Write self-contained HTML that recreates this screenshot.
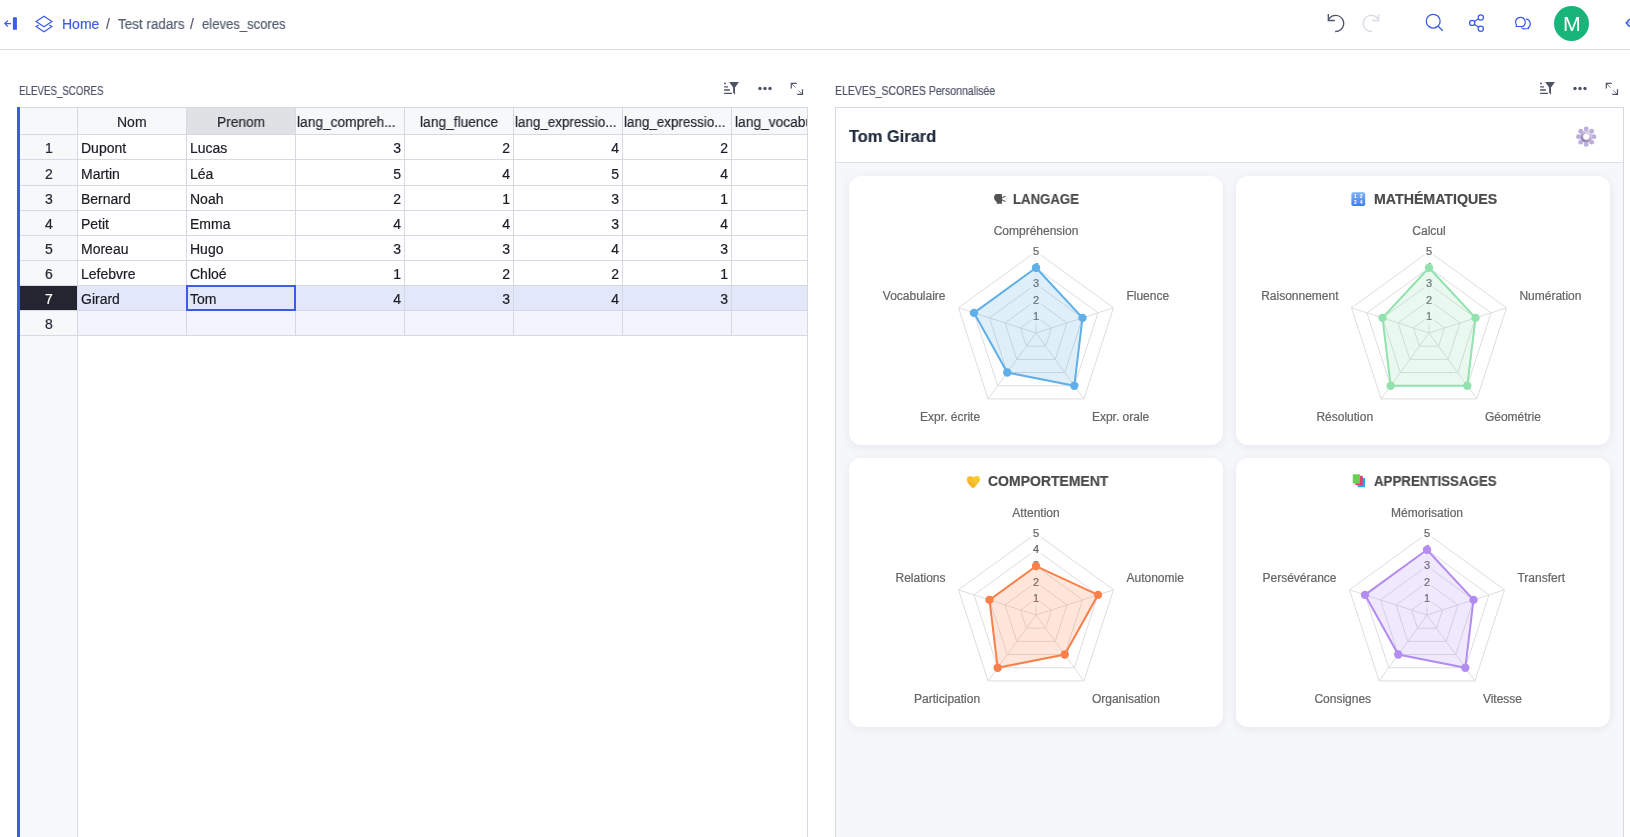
<!DOCTYPE html><html><head><meta charset="utf-8"><title>eleves_scores</title><style>
*{box-sizing:border-box;margin:0;padding:0}
html,body{width:1630px;height:837px;overflow:hidden;background:#fff;font-family:"Liberation Sans",sans-serif}
body{position:relative}
.ab{will-change:transform;-webkit-text-stroke:0.2px currentColor}
.ab{position:absolute;white-space:nowrap}
.gl{position:absolute;background:#d4d9e3}
.card{position:absolute;background:#fff;border-radius:12px;box-shadow:0 2px 10px rgba(20,30,60,0.07)}
svg text{font-family:"Liberation Sans",sans-serif}
svg text.ct{stroke:#666;stroke-width:0.22px}
</style></head><body>
<div class="ab" style="left:0;top:49px;width:1630px;height:1px;background:#d9dce4"></div>
<svg class="ab" style="left:0;top:10px" width="24" height="28" viewBox="0 0 24 28">
<path d="M11 13.6H5.2 M7.9 10.6L4.8 13.6L7.9 16.6" fill="none" stroke="#3d5ce5" stroke-width="1.3"/>
<rect x="12.9" y="7.2" width="4" height="12.6" fill="#3d5ce5" rx="0.5"/></svg>
<svg class="ab" style="left:34px;top:14px" width="21" height="20" viewBox="0 0 21 20">
<path d="M10 2.3L17.9 7.5L10 12.7L2.1 7.5Z" fill="none" stroke="#3d5ce5" stroke-width="1.2"/>
<path d="M4.8 10.9L2.1 12.5L10 17.7L17.9 12.5L15.2 10.9" fill="none" stroke="#3d5ce5" stroke-width="1.2"/></svg>
<div class="ab" style="left:62.00px;top:17.15px;font-size:14px;line-height:14px;font-weight:normal;color:#3d5ce5;transform:scaleX(1.0011);transform-origin:left top;">Home</div>
<div class="ab" style="left:105.50px;top:17.15px;font-size:14px;line-height:14px;font-weight:normal;color:#535b6f;">/</div>
<div class="ab" style="left:117.80px;top:17.15px;font-size:14px;line-height:14px;font-weight:normal;color:#535b6f;transform:scaleX(0.9617);transform-origin:left top;">Test radars</div>
<div class="ab" style="left:189.90px;top:17.15px;font-size:14px;line-height:14px;font-weight:normal;color:#535b6f;">/</div>
<div class="ab" style="left:201.60px;top:17.15px;font-size:14px;line-height:14px;font-weight:normal;color:#535b6f;transform:scaleX(0.9341);transform-origin:left top;">eleves_scores</div>
<svg class="ab" style="left:1324px;top:10px" width="24" height="26" viewBox="0 0 24 26">
<path d="M4.4 9.8 A 8.1 8.1 0 1 1 11.2 21.5" fill="none" stroke="#4b5268" stroke-width="1.3"/>
<path d="M4.3 3.9V10.5H10.8" fill="none" stroke="#4b5268" stroke-width="1.3"/></svg>
<svg class="ab" style="left:1358.7px;top:10px" width="24" height="26" viewBox="0 0 24 26">
<g transform="translate(24,0) scale(-1,1)">
<path d="M4.4 9.8 A 8.1 8.1 0 1 1 11.2 21.5" fill="none" stroke="#d5dae3" stroke-width="1.3"/>
<path d="M4.3 3.9V10.5H10.8" fill="none" stroke="#d5dae3" stroke-width="1.3"/></g></svg>
<svg class="ab" style="left:1422px;top:10px" width="24" height="24" viewBox="0 0 24 24">
<circle cx="11.2" cy="11.2" r="6.9" fill="none" stroke="#3d5ce5" stroke-width="1.3"/>
<path d="M16.2 16.2L20.8 20.8" stroke="#3d5ce5" stroke-width="1.3"/></svg>
<svg class="ab" style="left:1466px;top:11px" width="22" height="24" viewBox="0 0 22 24">
<circle cx="6.2" cy="11.9" r="2.6" fill="none" stroke="#3d5ce5" stroke-width="1.25"/>
<circle cx="14.8" cy="6.4" r="2.6" fill="none" stroke="#3d5ce5" stroke-width="1.25"/>
<circle cx="14.8" cy="17.7" r="2.6" fill="none" stroke="#3d5ce5" stroke-width="1.25"/>
<path d="M8.4 10.5L12.6 7.8 M8.4 13.3L12.6 16.3" stroke="#3d5ce5" stroke-width="1.25"/></svg>
<svg class="ab" style="left:1512px;top:12px" width="22" height="22" viewBox="0 0 22 22">
<path d="M4.1 14.5L4.5 13.1A4.9 4.9 0 1 1 10.9 14.4Z" fill="none" stroke="#3d5ce5" stroke-width="1.25" stroke-linejoin="round"/>
<path d="M13.8 7.2A4.6 4.6 0 0 1 16.1 15.7L16.6 16.5L11.6 16.9Q10.4 16.5 9.4 15.6" fill="none" stroke="#3d5ce5" stroke-width="1.25" stroke-linejoin="round"/></svg>
<div class="ab" style="left:1554px;top:6px;width:35px;height:35px;border-radius:50%;background:#18b57a"></div>
<div class="ab" style="left:1272.10px;width:600px;text-align:center;top:14.07px;font-size:20px;line-height:20px;font-weight:normal;color:#fff;transform:scaleX(1.0677);transform-origin:center top;-webkit-text-stroke:0">M</div>
<svg class="ab" style="left:1620px;top:14px" width="10" height="20" viewBox="0 0 10 20">
<path d="M10 8.9H7.8" stroke="#9fb0f0" stroke-width="1.4"/>
<path d="M9.8 5.1L6.2 8.9L9.8 12.7" fill="none" stroke="#3d5ce5" stroke-width="1.5"/></svg>
<div class="ab" style="left:19.30px;top:84.84px;font-size:12px;line-height:12px;font-weight:normal;color:#4d5468;transform:scaleX(0.8121);transform-origin:left top;">ELEVES_SCORES</div>
<div class="ab" style="left:834.80px;top:84.84px;font-size:12px;line-height:12px;font-weight:normal;color:#4d5468;transform:scaleX(0.8733);transform-origin:left top;">ELEVES_SCORES Personnalisée</div>
<svg class="ab" style="left:722px;top:80px" width="20" height="18" viewBox="0 0 20 18">
<path d="M2.1 3.5h1.8 M2.1 6.8h3.9 M2.1 10h5.8 M2.1 13.3h7.9" stroke="#4d5468" stroke-width="1.3"/>
<path d="M7.2 2.1H16.9L13.0 7.4V14.6L11.1 12.8V7.4Z" fill="#4d5468"/></svg><svg class="ab" style="left:756px;top:80px" width="18" height="16" viewBox="0 0 18 16">
<circle cx="4.0" cy="8.5" r="1.7" fill="#4d5468"/><circle cx="9.0" cy="8.5" r="1.7" fill="#4d5468"/><circle cx="14.0" cy="8.5" r="1.7" fill="#4d5468"/></svg><svg class="ab" style="left:788px;top:80px" width="18" height="18" viewBox="0 0 18 18">
<path d="M8.7 3.4H3.3V8.5 M9.2 14.4H14.5V9.2" fill="none" stroke="#4d5468" stroke-width="1.2"/>
<path d="M3.6 3.7L7.6 7.6 M10.3 10.4L14.2 14.1" fill="none" stroke="#4d5468" stroke-width="0.9" opacity="0.85"/></svg>
<svg class="ab" style="left:1538px;top:80px" width="20" height="18" viewBox="0 0 20 18">
<path d="M2.1 3.5h1.8 M2.1 6.8h3.9 M2.1 10h5.8 M2.1 13.3h7.9" stroke="#4d5468" stroke-width="1.3"/>
<path d="M7.2 2.1H16.9L13.0 7.4V14.6L11.1 12.8V7.4Z" fill="#4d5468"/></svg><svg class="ab" style="left:1571px;top:80px" width="18" height="16" viewBox="0 0 18 16">
<circle cx="4.0" cy="8.5" r="1.7" fill="#4d5468"/><circle cx="9.0" cy="8.5" r="1.7" fill="#4d5468"/><circle cx="14.0" cy="8.5" r="1.7" fill="#4d5468"/></svg><svg class="ab" style="left:1603px;top:80px" width="18" height="18" viewBox="0 0 18 18">
<path d="M8.7 3.4H3.3V8.5 M9.2 14.4H14.5V9.2" fill="none" stroke="#4d5468" stroke-width="1.2"/>
<path d="M3.6 3.7L7.6 7.6 M10.3 10.4L14.2 14.1" fill="none" stroke="#4d5468" stroke-width="0.9" opacity="0.85"/></svg>
<div class="ab" style="left:17px;top:107px;width:3px;height:730px;background:#3d5ce5"></div>
<div class="ab" style="left:20px;top:107px;width:57px;height:730px;background:#f7f8fa"></div>
<div class="ab" style="left:77px;top:107px;width:730px;height:27px;background:#f7f8fa"></div>
<div class="ab" style="left:187px;top:108px;width:108px;height:26px;background:#e0e1e4"></div>
<div class="ab" style="left:78px;top:286px;width:729px;height:24px;background:#e2e7fa"></div>
<div class="ab" style="left:78px;top:311px;width:729px;height:24px;background:#f3f5fd"></div>
<div class="ab" style="left:20px;top:286px;width:57px;height:24px;background:#232630"></div>
<div class="gl" style="left:20px;top:107px;width:788px;height:1px"></div>
<div class="gl" style="left:20px;top:134px;width:788px;height:1px"></div>
<div class="gl" style="left:20px;top:159px;width:788px;height:1px"></div>
<div class="gl" style="left:20px;top:185px;width:788px;height:1px"></div>
<div class="gl" style="left:20px;top:210px;width:788px;height:1px"></div>
<div class="gl" style="left:20px;top:235px;width:788px;height:1px"></div>
<div class="gl" style="left:20px;top:260px;width:788px;height:1px"></div>
<div class="gl" style="left:20px;top:285px;width:788px;height:1px"></div>
<div class="gl" style="left:20px;top:310px;width:788px;height:1px"></div>
<div class="gl" style="left:20px;top:335px;width:788px;height:1px"></div>
<div class="gl" style="left:77px;top:107px;width:1px;height:730px"></div>
<div class="gl" style="left:186px;top:107px;width:1px;height:229px"></div>
<div class="gl" style="left:295px;top:107px;width:1px;height:229px"></div>
<div class="gl" style="left:404px;top:107px;width:1px;height:229px"></div>
<div class="gl" style="left:513px;top:107px;width:1px;height:229px"></div>
<div class="gl" style="left:622px;top:107px;width:1px;height:229px"></div>
<div class="gl" style="left:731px;top:107px;width:1px;height:229px"></div>
<div class="gl" style="left:807px;top:107px;width:1px;height:730px"></div>
<div class="ab" style="left:117.00px;top:115.15px;font-size:14px;line-height:14px;font-weight:normal;color:#262633;">Nom</div>
<div class="ab" style="left:216.80px;top:115.15px;font-size:14px;line-height:14px;font-weight:normal;color:#262633;transform:scaleX(0.9830);transform-origin:left top;">Prenom</div>
<div class="ab" style="left:297.20px;top:115.15px;font-size:14px;line-height:14px;font-weight:normal;color:#262633;transform:scaleX(0.9820);transform-origin:left top;">lang_compreh...</div>
<div class="ab" style="left:419.80px;top:115.15px;font-size:14px;line-height:14px;font-weight:normal;color:#262633;transform:scaleX(0.9848);transform-origin:left top;">lang_fluence</div>
<div class="ab" style="left:515.00px;top:115.15px;font-size:14px;line-height:14px;font-weight:normal;color:#262633;transform:scaleX(0.9580);transform-origin:left top;">lang_expressio...</div>
<div class="ab" style="left:624.10px;top:115.15px;font-size:14px;line-height:14px;font-weight:normal;color:#262633;transform:scaleX(0.9580);transform-origin:left top;">lang_expressio...</div>
<div class="ab" style="left:732px;top:108px;width:75px;height:26px;overflow:hidden">
<div class="ab" style="left:2.50px;top:7.15px;font-size:14px;line-height:14px;font-weight:normal;color:#262633;transform:scaleX(0.9848);transform-origin:left top;">lang_vocabu</div>
</div>
<div class="ab" style="left:-251.50px;width:600px;text-align:center;top:141.15px;font-size:14px;line-height:14px;font-weight:normal;color:#262633;">1</div>
<div class="ab" style="left:80.80px;top:141.15px;font-size:14px;line-height:14px;font-weight:normal;color:#1c1c24;">Dupont</div>
<div class="ab" style="left:189.90px;top:141.15px;font-size:14px;line-height:14px;font-weight:normal;color:#1c1c24;">Lucas</div>
<div class="ab" style="left:0.50px;width:400px;text-align:right;top:141.15px;font-size:14px;line-height:14px;font-weight:normal;color:#1c1c24;">3</div>
<div class="ab" style="left:109.50px;width:400px;text-align:right;top:141.15px;font-size:14px;line-height:14px;font-weight:normal;color:#1c1c24;">2</div>
<div class="ab" style="left:218.50px;width:400px;text-align:right;top:141.15px;font-size:14px;line-height:14px;font-weight:normal;color:#1c1c24;">4</div>
<div class="ab" style="left:327.50px;width:400px;text-align:right;top:141.15px;font-size:14px;line-height:14px;font-weight:normal;color:#1c1c24;">2</div>
<div class="ab" style="left:-251.50px;width:600px;text-align:center;top:167.15px;font-size:14px;line-height:14px;font-weight:normal;color:#262633;">2</div>
<div class="ab" style="left:80.80px;top:167.15px;font-size:14px;line-height:14px;font-weight:normal;color:#1c1c24;">Martin</div>
<div class="ab" style="left:189.90px;top:167.15px;font-size:14px;line-height:14px;font-weight:normal;color:#1c1c24;">Léa</div>
<div class="ab" style="left:0.50px;width:400px;text-align:right;top:167.15px;font-size:14px;line-height:14px;font-weight:normal;color:#1c1c24;">5</div>
<div class="ab" style="left:109.50px;width:400px;text-align:right;top:167.15px;font-size:14px;line-height:14px;font-weight:normal;color:#1c1c24;">4</div>
<div class="ab" style="left:218.50px;width:400px;text-align:right;top:167.15px;font-size:14px;line-height:14px;font-weight:normal;color:#1c1c24;">5</div>
<div class="ab" style="left:327.50px;width:400px;text-align:right;top:167.15px;font-size:14px;line-height:14px;font-weight:normal;color:#1c1c24;">4</div>
<div class="ab" style="left:-251.50px;width:600px;text-align:center;top:192.15px;font-size:14px;line-height:14px;font-weight:normal;color:#262633;">3</div>
<div class="ab" style="left:80.80px;top:192.15px;font-size:14px;line-height:14px;font-weight:normal;color:#1c1c24;">Bernard</div>
<div class="ab" style="left:189.90px;top:192.15px;font-size:14px;line-height:14px;font-weight:normal;color:#1c1c24;">Noah</div>
<div class="ab" style="left:0.50px;width:400px;text-align:right;top:192.15px;font-size:14px;line-height:14px;font-weight:normal;color:#1c1c24;">2</div>
<div class="ab" style="left:109.50px;width:400px;text-align:right;top:192.15px;font-size:14px;line-height:14px;font-weight:normal;color:#1c1c24;">1</div>
<div class="ab" style="left:218.50px;width:400px;text-align:right;top:192.15px;font-size:14px;line-height:14px;font-weight:normal;color:#1c1c24;">3</div>
<div class="ab" style="left:327.50px;width:400px;text-align:right;top:192.15px;font-size:14px;line-height:14px;font-weight:normal;color:#1c1c24;">1</div>
<div class="ab" style="left:-251.50px;width:600px;text-align:center;top:217.15px;font-size:14px;line-height:14px;font-weight:normal;color:#262633;">4</div>
<div class="ab" style="left:80.80px;top:217.15px;font-size:14px;line-height:14px;font-weight:normal;color:#1c1c24;">Petit</div>
<div class="ab" style="left:189.90px;top:217.15px;font-size:14px;line-height:14px;font-weight:normal;color:#1c1c24;">Emma</div>
<div class="ab" style="left:0.50px;width:400px;text-align:right;top:217.15px;font-size:14px;line-height:14px;font-weight:normal;color:#1c1c24;">4</div>
<div class="ab" style="left:109.50px;width:400px;text-align:right;top:217.15px;font-size:14px;line-height:14px;font-weight:normal;color:#1c1c24;">4</div>
<div class="ab" style="left:218.50px;width:400px;text-align:right;top:217.15px;font-size:14px;line-height:14px;font-weight:normal;color:#1c1c24;">3</div>
<div class="ab" style="left:327.50px;width:400px;text-align:right;top:217.15px;font-size:14px;line-height:14px;font-weight:normal;color:#1c1c24;">4</div>
<div class="ab" style="left:-251.50px;width:600px;text-align:center;top:242.15px;font-size:14px;line-height:14px;font-weight:normal;color:#262633;">5</div>
<div class="ab" style="left:80.80px;top:242.15px;font-size:14px;line-height:14px;font-weight:normal;color:#1c1c24;">Moreau</div>
<div class="ab" style="left:189.90px;top:242.15px;font-size:14px;line-height:14px;font-weight:normal;color:#1c1c24;">Hugo</div>
<div class="ab" style="left:0.50px;width:400px;text-align:right;top:242.15px;font-size:14px;line-height:14px;font-weight:normal;color:#1c1c24;">3</div>
<div class="ab" style="left:109.50px;width:400px;text-align:right;top:242.15px;font-size:14px;line-height:14px;font-weight:normal;color:#1c1c24;">3</div>
<div class="ab" style="left:218.50px;width:400px;text-align:right;top:242.15px;font-size:14px;line-height:14px;font-weight:normal;color:#1c1c24;">4</div>
<div class="ab" style="left:327.50px;width:400px;text-align:right;top:242.15px;font-size:14px;line-height:14px;font-weight:normal;color:#1c1c24;">3</div>
<div class="ab" style="left:-251.50px;width:600px;text-align:center;top:267.15px;font-size:14px;line-height:14px;font-weight:normal;color:#262633;">6</div>
<div class="ab" style="left:80.80px;top:267.15px;font-size:14px;line-height:14px;font-weight:normal;color:#1c1c24;">Lefebvre</div>
<div class="ab" style="left:189.90px;top:267.15px;font-size:14px;line-height:14px;font-weight:normal;color:#1c1c24;">Chloé</div>
<div class="ab" style="left:0.50px;width:400px;text-align:right;top:267.15px;font-size:14px;line-height:14px;font-weight:normal;color:#1c1c24;">1</div>
<div class="ab" style="left:109.50px;width:400px;text-align:right;top:267.15px;font-size:14px;line-height:14px;font-weight:normal;color:#1c1c24;">2</div>
<div class="ab" style="left:218.50px;width:400px;text-align:right;top:267.15px;font-size:14px;line-height:14px;font-weight:normal;color:#1c1c24;">2</div>
<div class="ab" style="left:327.50px;width:400px;text-align:right;top:267.15px;font-size:14px;line-height:14px;font-weight:normal;color:#1c1c24;">1</div>
<div class="ab" style="left:-251.50px;width:600px;text-align:center;top:292.15px;font-size:14px;line-height:14px;font-weight:normal;color:#fff;">7</div>
<div class="ab" style="left:80.80px;top:292.15px;font-size:14px;line-height:14px;font-weight:normal;color:#1c1c24;">Girard</div>
<div class="ab" style="left:189.90px;top:292.15px;font-size:14px;line-height:14px;font-weight:normal;color:#1c1c24;">Tom</div>
<div class="ab" style="left:0.50px;width:400px;text-align:right;top:292.15px;font-size:14px;line-height:14px;font-weight:normal;color:#1c1c24;">4</div>
<div class="ab" style="left:109.50px;width:400px;text-align:right;top:292.15px;font-size:14px;line-height:14px;font-weight:normal;color:#1c1c24;">3</div>
<div class="ab" style="left:218.50px;width:400px;text-align:right;top:292.15px;font-size:14px;line-height:14px;font-weight:normal;color:#1c1c24;">4</div>
<div class="ab" style="left:327.50px;width:400px;text-align:right;top:292.15px;font-size:14px;line-height:14px;font-weight:normal;color:#1c1c24;">3</div>
<div class="ab" style="left:-251.50px;width:600px;text-align:center;top:317.15px;font-size:14px;line-height:14px;font-weight:normal;color:#262633;">8</div>
<div class="ab" style="left:186px;top:285px;width:110px;height:26px;border:2px solid #3d5ce5"></div>
<div class="ab" style="left:835px;top:107px;width:789px;height:730px;border:1px solid #d3d8e2;border-bottom:none;background:#f5f7fa"></div>
<div class="ab" style="left:836px;top:108px;width:787px;height:55px;background:#fff;border-bottom:1px solid #dde1e8"></div>
<div class="ab" style="left:849.30px;top:127.61px;font-size:17px;line-height:17px;font-weight:bold;color:#1f2a3c;transform:scaleX(0.9649);transform-origin:left top;">Tom Girard</div>
<svg class="ab" style="left:1575px;top:126px" width="22" height="22" viewBox="0 0 22 22"><defs><linearGradient id="gr" x1="0.8" y1="0.1" x2="0.2" y2="0.9"><stop offset="0" stop-color="#ddd3ea"/><stop offset="1" stop-color="#9383b0"/></linearGradient></defs><circle cx="11.20" cy="3.00" r="2.45" fill="#bcaedb"/><circle cx="16.64" cy="5.26" r="2.45" fill="#bcaedb"/><circle cx="18.90" cy="10.70" r="2.45" fill="#bcaedb"/><circle cx="16.64" cy="16.14" r="2.45" fill="#bcaedb"/><circle cx="11.20" cy="18.40" r="2.45" fill="#bcaedb"/><circle cx="5.76" cy="16.14" r="2.45" fill="#bcaedb"/><circle cx="3.50" cy="10.70" r="2.45" fill="#bcaedb"/><circle cx="5.76" cy="5.26" r="2.45" fill="#bcaedb"/><circle cx="11.2" cy="10.7" r="6.2" fill="#c2b5df"/><circle cx="11.2" cy="10.7" r="4.3" fill="none" stroke="url(#gr)" stroke-width="2.6"/><circle cx="11.2" cy="10.7" r="3" fill="#fff"/></svg>
<div class="card" style="left:849px;top:176px;width:374px;height:269px"></div>
<div class="card" style="left:1236px;top:176px;width:374px;height:269px"></div>
<div class="card" style="left:849px;top:458px;width:374px;height:269px"></div>
<div class="card" style="left:1236px;top:458px;width:374px;height:269px"></div>
<svg class="ab" style="left:845.55px;top:172.80px" width="380" height="300" viewBox="845.55 172.80 380 300">
<polygon points="1035.55,316.50 1051.05,327.76 1045.13,345.99 1025.97,345.99 1020.05,327.76" fill="none" stroke="#dddddd" stroke-width="1"/>
<polygon points="1035.55,300.20 1066.55,322.73 1054.71,359.17 1016.39,359.17 1004.55,322.73" fill="none" stroke="#dddddd" stroke-width="1"/>
<polygon points="1035.55,283.90 1082.06,317.69 1064.29,372.36 1006.81,372.36 989.04,317.69" fill="none" stroke="#dddddd" stroke-width="1"/>
<polygon points="1035.55,267.60 1097.56,312.65 1073.87,385.55 997.23,385.55 973.54,312.65" fill="none" stroke="#dddddd" stroke-width="1"/>
<polygon points="1035.55,251.30 1113.06,307.62 1083.45,398.73 987.65,398.73 958.04,307.62" fill="none" stroke="#dddddd" stroke-width="1"/>
<line x1="1035.55" y1="332.8" x2="1035.55" y2="251.30" stroke="#dddddd" stroke-width="1"/>
<line x1="1035.55" y1="332.8" x2="1113.06" y2="307.62" stroke="#dddddd" stroke-width="1"/>
<line x1="1035.55" y1="332.8" x2="1083.45" y2="398.73" stroke="#dddddd" stroke-width="1"/>
<line x1="1035.55" y1="332.8" x2="987.65" y2="398.73" stroke="#dddddd" stroke-width="1"/>
<line x1="1035.55" y1="332.8" x2="958.04" y2="307.62" stroke="#dddddd" stroke-width="1"/>
<text x="1035.55" y="234.66" class="ct" font-size="12" fill="#666" text-anchor="middle">Compréhension</text>
<text x="1126.00" y="299.47" class="ct" font-size="12" fill="#666" text-anchor="start">Fluence</text>
<text x="1091.45" y="421.10" class="ct" font-size="12" fill="#666" text-anchor="start">Expr. orale</text>
<text x="979.65" y="421.10" class="ct" font-size="12" fill="#666" text-anchor="end">Expr. écrite</text>
<text x="945.10" y="299.47" class="ct" font-size="12" fill="#666" text-anchor="end">Vocabulaire</text>
<rect x="1030.45" y="307.90" width="10.2" height="17.2" fill="rgba(255,255,255,0.75)"/>
<text x="1035.55" y="319.75" class="ct" font-size="11" fill="#666" text-anchor="middle">1</text>
<rect x="1030.45" y="291.60" width="10.2" height="17.2" fill="rgba(255,255,255,0.75)"/>
<text x="1035.55" y="303.45" class="ct" font-size="11" fill="#666" text-anchor="middle">2</text>
<rect x="1030.45" y="275.30" width="10.2" height="17.2" fill="rgba(255,255,255,0.75)"/>
<text x="1035.55" y="287.15" class="ct" font-size="11" fill="#666" text-anchor="middle">3</text>
<rect x="1030.45" y="259.00" width="10.2" height="17.2" fill="rgba(255,255,255,0.75)"/>
<text x="1035.55" y="270.85" class="ct" font-size="11" fill="#666" text-anchor="middle">4</text>
<rect x="1030.45" y="242.70" width="10.2" height="17.2" fill="rgba(255,255,255,0.75)"/>
<text x="1035.55" y="254.55" class="ct" font-size="11" fill="#666" text-anchor="middle">5</text>
<polygon points="1035.55,267.60 1082.06,317.69 1073.87,385.55 1006.81,372.36 973.54,312.65" fill="rgba(96,175,232,0.2)" stroke="#60afe8" stroke-width="2" stroke-linejoin="miter"/>
<circle cx="1035.55" cy="267.60" r="4.2" fill="#60afe8"/>
<circle cx="1082.06" cy="317.69" r="4.2" fill="#60afe8"/>
<circle cx="1073.87" cy="385.55" r="4.2" fill="#60afe8"/>
<circle cx="1006.81" cy="372.36" r="4.2" fill="#60afe8"/>
<circle cx="973.54" cy="312.65" r="4.2" fill="#60afe8"/>
</svg>
<svg class="ab" style="left:1238.98px;top:172.80px" width="380" height="300" viewBox="1238.98 172.80 380 300">
<polygon points="1428.98,316.50 1444.48,327.76 1438.56,345.99 1419.40,345.99 1413.48,327.76" fill="none" stroke="#dddddd" stroke-width="1"/>
<polygon points="1428.98,300.20 1459.98,322.73 1448.14,359.17 1409.82,359.17 1397.98,322.73" fill="none" stroke="#dddddd" stroke-width="1"/>
<polygon points="1428.98,283.90 1475.49,317.69 1457.72,372.36 1400.24,372.36 1382.47,317.69" fill="none" stroke="#dddddd" stroke-width="1"/>
<polygon points="1428.98,267.60 1490.99,312.65 1467.30,385.55 1390.66,385.55 1366.97,312.65" fill="none" stroke="#dddddd" stroke-width="1"/>
<polygon points="1428.98,251.30 1506.49,307.62 1476.88,398.73 1381.08,398.73 1351.47,307.62" fill="none" stroke="#dddddd" stroke-width="1"/>
<line x1="1428.98" y1="332.8" x2="1428.98" y2="251.30" stroke="#dddddd" stroke-width="1"/>
<line x1="1428.98" y1="332.8" x2="1506.49" y2="307.62" stroke="#dddddd" stroke-width="1"/>
<line x1="1428.98" y1="332.8" x2="1476.88" y2="398.73" stroke="#dddddd" stroke-width="1"/>
<line x1="1428.98" y1="332.8" x2="1381.08" y2="398.73" stroke="#dddddd" stroke-width="1"/>
<line x1="1428.98" y1="332.8" x2="1351.47" y2="307.62" stroke="#dddddd" stroke-width="1"/>
<text x="1428.98" y="234.66" class="ct" font-size="12" fill="#666" text-anchor="middle">Calcul</text>
<text x="1519.43" y="299.47" class="ct" font-size="12" fill="#666" text-anchor="start">Numération</text>
<text x="1484.88" y="421.10" class="ct" font-size="12" fill="#666" text-anchor="start">Géométrie</text>
<text x="1373.08" y="421.10" class="ct" font-size="12" fill="#666" text-anchor="end">Résolution</text>
<text x="1338.53" y="299.47" class="ct" font-size="12" fill="#666" text-anchor="end">Raisonnement</text>
<rect x="1423.88" y="307.90" width="10.2" height="17.2" fill="rgba(255,255,255,0.75)"/>
<text x="1428.98" y="319.75" class="ct" font-size="11" fill="#666" text-anchor="middle">1</text>
<rect x="1423.88" y="291.60" width="10.2" height="17.2" fill="rgba(255,255,255,0.75)"/>
<text x="1428.98" y="303.45" class="ct" font-size="11" fill="#666" text-anchor="middle">2</text>
<rect x="1423.88" y="275.30" width="10.2" height="17.2" fill="rgba(255,255,255,0.75)"/>
<text x="1428.98" y="287.15" class="ct" font-size="11" fill="#666" text-anchor="middle">3</text>
<rect x="1423.88" y="259.00" width="10.2" height="17.2" fill="rgba(255,255,255,0.75)"/>
<text x="1428.98" y="270.85" class="ct" font-size="11" fill="#666" text-anchor="middle">4</text>
<rect x="1423.88" y="242.70" width="10.2" height="17.2" fill="rgba(255,255,255,0.75)"/>
<text x="1428.98" y="254.55" class="ct" font-size="11" fill="#666" text-anchor="middle">5</text>
<polygon points="1428.98,267.60 1475.49,317.69 1467.30,385.55 1390.66,385.55 1382.47,317.69" fill="rgba(145,226,173,0.2)" stroke="#91e2ad" stroke-width="2" stroke-linejoin="miter"/>
<circle cx="1428.98" cy="267.60" r="4.2" fill="#91e2ad"/>
<circle cx="1475.49" cy="317.69" r="4.2" fill="#91e2ad"/>
<circle cx="1467.30" cy="385.55" r="4.2" fill="#91e2ad"/>
<circle cx="1390.66" cy="385.55" r="4.2" fill="#91e2ad"/>
<circle cx="1382.47" cy="317.69" r="4.2" fill="#91e2ad"/>
</svg>
<svg class="ab" style="left:845.55px;top:454.80px" width="380" height="300" viewBox="845.55 454.80 380 300">
<polygon points="1035.55,598.50 1051.05,609.76 1045.13,627.99 1025.97,627.99 1020.05,609.76" fill="none" stroke="#dddddd" stroke-width="1"/>
<polygon points="1035.55,582.20 1066.55,604.73 1054.71,641.17 1016.39,641.17 1004.55,604.73" fill="none" stroke="#dddddd" stroke-width="1"/>
<polygon points="1035.55,565.90 1082.06,599.69 1064.29,654.36 1006.81,654.36 989.04,599.69" fill="none" stroke="#dddddd" stroke-width="1"/>
<polygon points="1035.55,549.60 1097.56,594.65 1073.87,667.55 997.23,667.55 973.54,594.65" fill="none" stroke="#dddddd" stroke-width="1"/>
<polygon points="1035.55,533.30 1113.06,589.62 1083.45,680.73 987.65,680.73 958.04,589.62" fill="none" stroke="#dddddd" stroke-width="1"/>
<line x1="1035.55" y1="614.8" x2="1035.55" y2="533.30" stroke="#dddddd" stroke-width="1"/>
<line x1="1035.55" y1="614.8" x2="1113.06" y2="589.62" stroke="#dddddd" stroke-width="1"/>
<line x1="1035.55" y1="614.8" x2="1083.45" y2="680.73" stroke="#dddddd" stroke-width="1"/>
<line x1="1035.55" y1="614.8" x2="987.65" y2="680.73" stroke="#dddddd" stroke-width="1"/>
<line x1="1035.55" y1="614.8" x2="958.04" y2="589.62" stroke="#dddddd" stroke-width="1"/>
<text x="1035.55" y="516.66" class="ct" font-size="12" fill="#666" text-anchor="middle">Attention</text>
<text x="1126.00" y="581.47" class="ct" font-size="12" fill="#666" text-anchor="start">Autonomie</text>
<text x="1091.45" y="703.10" class="ct" font-size="12" fill="#666" text-anchor="start">Organisation</text>
<text x="979.65" y="703.10" class="ct" font-size="12" fill="#666" text-anchor="end">Participation</text>
<text x="945.10" y="581.47" class="ct" font-size="12" fill="#666" text-anchor="end">Relations</text>
<rect x="1030.45" y="589.90" width="10.2" height="17.2" fill="rgba(255,255,255,0.75)"/>
<text x="1035.55" y="601.75" class="ct" font-size="11" fill="#666" text-anchor="middle">1</text>
<rect x="1030.45" y="573.60" width="10.2" height="17.2" fill="rgba(255,255,255,0.75)"/>
<text x="1035.55" y="585.45" class="ct" font-size="11" fill="#666" text-anchor="middle">2</text>
<rect x="1030.45" y="557.30" width="10.2" height="17.2" fill="rgba(255,255,255,0.75)"/>
<text x="1035.55" y="569.15" class="ct" font-size="11" fill="#666" text-anchor="middle">3</text>
<rect x="1030.45" y="541.00" width="10.2" height="17.2" fill="rgba(255,255,255,0.75)"/>
<text x="1035.55" y="552.85" class="ct" font-size="11" fill="#666" text-anchor="middle">4</text>
<rect x="1030.45" y="524.70" width="10.2" height="17.2" fill="rgba(255,255,255,0.75)"/>
<text x="1035.55" y="536.55" class="ct" font-size="11" fill="#666" text-anchor="middle">5</text>
<polygon points="1035.55,565.90 1097.56,594.65 1064.29,654.36 997.23,667.55 989.04,599.69" fill="rgba(249,128,74,0.2)" stroke="#f9804a" stroke-width="2" stroke-linejoin="miter"/>
<circle cx="1035.55" cy="565.90" r="4.2" fill="#f9804a"/>
<circle cx="1097.56" cy="594.65" r="4.2" fill="#f9804a"/>
<circle cx="1064.29" cy="654.36" r="4.2" fill="#f9804a"/>
<circle cx="997.23" cy="667.55" r="4.2" fill="#f9804a"/>
<circle cx="989.04" cy="599.69" r="4.2" fill="#f9804a"/>
</svg>
<svg class="ab" style="left:1236.60px;top:454.80px" width="380" height="300" viewBox="1236.60 454.80 380 300">
<polygon points="1426.60,598.50 1442.10,609.76 1436.18,627.99 1417.02,627.99 1411.10,609.76" fill="none" stroke="#dddddd" stroke-width="1"/>
<polygon points="1426.60,582.20 1457.60,604.73 1445.76,641.17 1407.44,641.17 1395.60,604.73" fill="none" stroke="#dddddd" stroke-width="1"/>
<polygon points="1426.60,565.90 1473.11,599.69 1455.34,654.36 1397.86,654.36 1380.09,599.69" fill="none" stroke="#dddddd" stroke-width="1"/>
<polygon points="1426.60,549.60 1488.61,594.65 1464.92,667.55 1388.28,667.55 1364.59,594.65" fill="none" stroke="#dddddd" stroke-width="1"/>
<polygon points="1426.60,533.30 1504.11,589.62 1474.50,680.73 1378.70,680.73 1349.09,589.62" fill="none" stroke="#dddddd" stroke-width="1"/>
<line x1="1426.6" y1="614.8" x2="1426.60" y2="533.30" stroke="#dddddd" stroke-width="1"/>
<line x1="1426.6" y1="614.8" x2="1504.11" y2="589.62" stroke="#dddddd" stroke-width="1"/>
<line x1="1426.6" y1="614.8" x2="1474.50" y2="680.73" stroke="#dddddd" stroke-width="1"/>
<line x1="1426.6" y1="614.8" x2="1378.70" y2="680.73" stroke="#dddddd" stroke-width="1"/>
<line x1="1426.6" y1="614.8" x2="1349.09" y2="589.62" stroke="#dddddd" stroke-width="1"/>
<text x="1426.60" y="516.66" class="ct" font-size="12" fill="#666" text-anchor="middle">Mémorisation</text>
<text x="1517.05" y="581.47" class="ct" font-size="12" fill="#666" text-anchor="start">Transfert</text>
<text x="1482.50" y="703.10" class="ct" font-size="12" fill="#666" text-anchor="start">Vitesse</text>
<text x="1370.70" y="703.10" class="ct" font-size="12" fill="#666" text-anchor="end">Consignes</text>
<text x="1336.15" y="581.47" class="ct" font-size="12" fill="#666" text-anchor="end">Persévérance</text>
<rect x="1421.50" y="589.90" width="10.2" height="17.2" fill="rgba(255,255,255,0.75)"/>
<text x="1426.60" y="601.75" class="ct" font-size="11" fill="#666" text-anchor="middle">1</text>
<rect x="1421.50" y="573.60" width="10.2" height="17.2" fill="rgba(255,255,255,0.75)"/>
<text x="1426.60" y="585.45" class="ct" font-size="11" fill="#666" text-anchor="middle">2</text>
<rect x="1421.50" y="557.30" width="10.2" height="17.2" fill="rgba(255,255,255,0.75)"/>
<text x="1426.60" y="569.15" class="ct" font-size="11" fill="#666" text-anchor="middle">3</text>
<rect x="1421.50" y="541.00" width="10.2" height="17.2" fill="rgba(255,255,255,0.75)"/>
<text x="1426.60" y="552.85" class="ct" font-size="11" fill="#666" text-anchor="middle">4</text>
<rect x="1421.50" y="524.70" width="10.2" height="17.2" fill="rgba(255,255,255,0.75)"/>
<text x="1426.60" y="536.55" class="ct" font-size="11" fill="#666" text-anchor="middle">5</text>
<polygon points="1426.60,549.60 1473.11,599.69 1464.92,667.55 1397.86,654.36 1364.59,594.65" fill="rgba(178,140,240,0.2)" stroke="#b28cf0" stroke-width="2" stroke-linejoin="miter"/>
<circle cx="1426.60" cy="549.60" r="4.2" fill="#b28cf0"/>
<circle cx="1473.11" cy="599.69" r="4.2" fill="#b28cf0"/>
<circle cx="1464.92" cy="667.55" r="4.2" fill="#b28cf0"/>
<circle cx="1397.86" cy="654.36" r="4.2" fill="#b28cf0"/>
<circle cx="1364.59" cy="594.65" r="4.2" fill="#b28cf0"/>
</svg>
<div class="ab" style="left:1012.70px;top:191.95px;font-size:14px;line-height:14px;font-weight:bold;color:#4a4a4a;transform:scaleX(0.9414);transform-origin:left top;">LANGAGE</div>
<div class="ab" style="left:1373.50px;top:191.95px;font-size:14px;line-height:14px;font-weight:bold;color:#4a4a4a;transform:scaleX(1.0124);transform-origin:left top;">MATHÉMATIQUES</div>
<div class="ab" style="left:988.00px;top:473.95px;font-size:14px;line-height:14px;font-weight:bold;color:#4a4a4a;transform:scaleX(0.9978);transform-origin:left top;">COMPORTEMENT</div>
<div class="ab" style="left:1373.50px;top:473.95px;font-size:14px;line-height:14px;font-weight:bold;color:#4a4a4a;transform:scaleX(0.9494);transform-origin:left top;">APPRENTISSAGES</div>
<svg class="ab" style="left:993px;top:193px" width="15" height="12" viewBox="0 0 15 12">
<path d="M3.7 10.7L3.7 9C2 8 1.06 6.5 1.06 4.6C1.06 2.5 2.2 1.2 3.6 1.1L8.7 1.1L8.95 3.5L9.7 4.4L9.0 5.0L9.7 7.2L8.95 7.9L8.95 10.7Z" fill="#535353"/>
<path d="M9.4 4.5L12.5 3.3 M9.4 7.3L12.5 8.5" stroke="#555" stroke-width="1.1"/>
<circle cx="13.5" cy="5.6" r="0.8" fill="#ddd"/></svg>
<svg class="ab" style="left:1351px;top:192px" width="15" height="15" viewBox="0 0 15 15">
<defs><linearGradient id="kb" x1="0" y1="0" x2="0" y2="1"><stop offset="0" stop-color="#7fb4f5"/><stop offset="1" stop-color="#3f7fe6"/></linearGradient></defs>
<rect x="0.4" y="0.2" width="13.8" height="13.8" rx="1.8" fill="url(#kb)"/>
<text x="4.2" y="6.3" font-size="5.2" fill="#fff" text-anchor="middle" font-weight="bold">1</text>
<text x="10.2" y="6.3" font-size="5.2" fill="#fff" text-anchor="middle" font-weight="bold">2</text>
<text x="4.2" y="12.4" font-size="5.2" fill="#fff" text-anchor="middle" font-weight="bold">3</text>
<text x="10.2" y="12.4" font-size="5.2" fill="#fff" text-anchor="middle" font-weight="bold">4</text></svg>
<svg class="ab" style="left:966px;top:475px" width="15" height="14" viewBox="0 0 15 14">
<defs><linearGradient id="hs" x1="1" y1="0" x2="0" y2="1"><stop offset="0" stop-color="#ffd83f"/><stop offset="1" stop-color="#f1a51c"/></linearGradient></defs>
<path d="M1 3.5C1 1.5 3 0.8 5 1.3L7.5 2L10 1.1C12.5 0.6 14.2 2 14.2 4C14.2 5.5 13.5 6.5 12.5 7.7L8.5 12.2C7.5 13.2 6.5 13.2 5.8 12.5L2.2 8.5C1.3 7.3 1 5.5 1 3.5Z" fill="url(#hs)"/>
<path d="M3.6 2.2C4.5 3.2 5 3.6 6 3.6 M9.6 3.2L12.6 6" stroke="#e9a227" stroke-width="0.8" fill="none" opacity="0.7"/></svg>
<svg class="ab" style="left:1352px;top:474px" width="15" height="15" viewBox="0 0 15 15">
<rect x="5.7" y="3.9" width="7.3" height="9.3" fill="#2aa7ef"/>
<rect x="3.4" y="1.8" width="7.3" height="9.3" fill="#e63a6a"/>
<rect x="0.8" y="0.3" width="7.2" height="9.3" fill="#6ccf55"/></svg>
</body></html>
